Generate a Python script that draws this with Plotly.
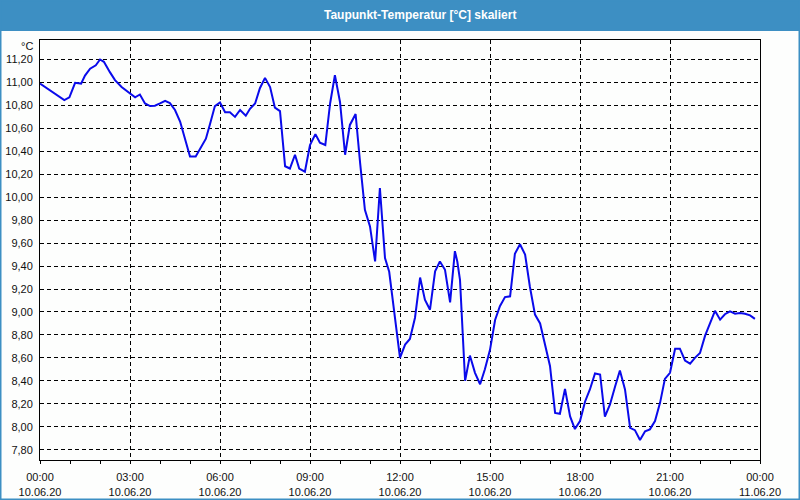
import plotly.graph_objects as go

title_text = "Taupunkt-Temperatur [°C] skaliert"
unit_label = "°C"

hours = [0.0, 0.81, 0.98, 1.17, 1.37, 1.5, 1.67, 1.86, 2.0, 2.13, 2.33, 2.5, 2.72, 3.0, 3.17, 3.33,
         3.5, 3.67, 3.83, 4.0, 4.17, 4.33, 4.5, 4.67, 4.83, 5.0, 5.19, 5.36, 5.53, 5.67, 5.83, 6.0,
         6.17, 6.33, 6.5, 6.67, 6.86, 7.0, 7.17, 7.33, 7.5, 7.67, 7.83, 8.0, 8.11, 8.17, 8.33, 8.5,
         8.64, 8.83, 9.0, 9.18, 9.33, 9.51, 9.67, 9.83, 10.0, 10.17, 10.33, 10.52, 10.67, 10.83,
         11.0, 11.17, 11.33, 11.5, 11.64, 11.78, 11.89, 12.0, 12.17, 12.33, 12.5, 12.67, 12.83,
         13.0, 13.17, 13.33, 13.5, 13.67, 13.83, 13.91, 14.0, 14.17, 14.33, 14.5, 14.67, 14.83,
         15.0, 15.17, 15.33, 15.5, 15.67, 15.83, 16.0, 16.17, 16.33, 16.5, 16.67, 16.83, 17.0,
         17.17, 17.33, 17.5, 17.67, 17.83, 18.0, 18.17, 18.33, 18.5, 18.67, 18.83, 19.0, 19.17,
         19.33, 19.5, 19.67, 19.83, 20.0, 20.17, 20.33, 20.5, 20.67, 20.83, 21.0, 21.17, 21.33,
         21.5, 21.67, 21.83, 22.0, 22.17, 22.33, 22.5, 22.67, 22.83, 23.0, 23.17, 23.33, 23.5,
         23.67, 23.83]

values = [10.99, 10.846, 10.87, 10.997, 10.99, 11.06, 11.12, 11.15, 11.20, 11.18, 11.09, 11.02,
          10.96, 10.90, 10.87, 10.895, 10.817, 10.794, 10.797, 10.817, 10.84, 10.82, 10.76, 10.66,
          10.50, 10.354, 10.354, 10.43, 10.51, 10.64, 10.794, 10.826, 10.74, 10.74, 10.70, 10.76,
          10.71, 10.77, 10.817, 10.95, 11.04, 10.96, 10.78, 10.75, 10.47, 10.27, 10.25, 10.37,
          10.25, 10.223, 10.455, 10.55, 10.475, 10.455, 10.817, 11.064, 10.83, 10.37, 10.63,
          10.725, 10.30, 9.89, 9.745, 9.44, 10.08, 9.47, 9.35, 9.05, 8.82, 8.60, 8.716, 8.765,
          8.95, 9.30, 9.107, 9.02, 9.354, 9.44, 9.368, 9.084, 9.53, 9.44, 9.28, 8.40, 8.62, 8.47,
          8.37, 8.50, 8.67, 8.93, 9.05, 9.13, 9.136, 9.507, 9.59, 9.50, 9.22, 8.977, 8.90, 8.73,
          8.53, 8.12, 8.113, 8.33, 8.09, 7.98, 8.05, 8.22, 8.325, 8.464, 8.455, 8.087, 8.194,
          8.35, 8.49, 8.325, 7.99, 7.97, 7.884, 7.96, 7.977, 8.05, 8.21, 8.417, 8.47, 8.68, 8.68,
          8.577, 8.55, 8.60, 8.643, 8.794, 8.904, 9.01, 8.933, 8.98, 9.006, 8.985, 8.99, 8.985,
          8.97, 8.94]

x_tick_vals = [0, 3, 6, 9, 12, 15, 18, 21, 24]
x_tick_times = ["00:00", "03:00", "06:00", "09:00", "12:00", "15:00", "18:00", "21:00", "00:00"]
x_tick_dates = ["10.06.20"] * 8 + ["11.06.20"]
y_tick_vals = [7.8, 8.0, 8.2, 8.4, 8.6, 8.8, 9.0, 9.2, 9.4, 9.6, 9.8, 10.0, 10.2, 10.4, 10.6,
               10.8, 11.0, 11.2]

W, H = 800, 500
ML, MR, MT, MB = 40, 40, 40, 40
PW, PH = W - ML - MR, H - MT - MB

def px(x):
    return (x - ML) / PW

def py(y):
    return (H - MB - y) / PH

BLUE = "#3d8fc3"
FONT = "Liberation Sans"

fig = go.Figure()
fig.add_trace(go.Scatter(x=hours, y=values, mode="lines",
                         line=dict(color="#0a0aeb", width=2), hoverinfo="skip"))

fig.update_layout(
    width=W, height=H,
    margin=dict(l=ML, r=MR, t=MT, b=MB, autoexpand=False),
    paper_bgcolor="#fdfefd", plot_bgcolor="#fdfefd",
    showlegend=False,
    separators=",.",
    font=dict(family=FONT, size=11, color="#111111"),
    xaxis=dict(
        range=[0, 24], tickmode="array", tickvals=x_tick_vals,
        ticktext=[f"{t}<br>{d}" for t, d in zip(x_tick_times, x_tick_dates)],
        showgrid=True, gridcolor="#000000", griddash="4px,3px", gridwidth=1,
        showline=True, linecolor="#000000", linewidth=1, mirror=True,
        ticks="outside", ticklen=3, tickcolor="#000000",
        minor=dict(dtick=1, ticks="outside", ticklen=3, tickcolor="#000000", showgrid=False),
        zeroline=False, ticklabelstandoff=4, automargin=False,
        tickfont=dict(family=FONT, size=11, color="#111111"),
    ),
    yaxis=dict(
        range=[7.71, 11.37], tickmode="array", tickvals=y_tick_vals, tickformat=".2f",
        showgrid=True, gridcolor="#000000", griddash="4px,3px", gridwidth=1,
        showline=True, linecolor="#000000", linewidth=1, mirror=True,
        ticks="", zeroline=False, ticklabelstandoff=4, automargin=False,
        tickfont=dict(family=FONT, size=11, color="#111111"),
    ),
    shapes=[
        dict(type="rect", xref="paper", yref="paper", x0=px(0), x1=px(W), y0=py(31), y1=py(0),
             fillcolor=BLUE, line=dict(width=0), layer="below"),
        dict(type="rect", xref="paper", yref="paper", x0=px(0), x1=px(W), y0=py(H), y1=py(0),
             fillcolor="rgba(0,0,0,0)", line=dict(color=BLUE, width=3)),
    ],
    annotations=[
        dict(text=f"<b>{title_text}</b>", xref="paper", yref="paper", x=px(420), y=py(15.5),
             xanchor="center", yanchor="middle", showarrow=False,
             font=dict(family=FONT, size=12, color="#ffffff")),
        dict(text=unit_label, xref="paper", yref="paper", x=px(35), y=py(46),
             xanchor="right", yanchor="middle", showarrow=False,
             font=dict(family=FONT, size=11, color="#111111")),
    ],
)

fig.write_html("out.html")
